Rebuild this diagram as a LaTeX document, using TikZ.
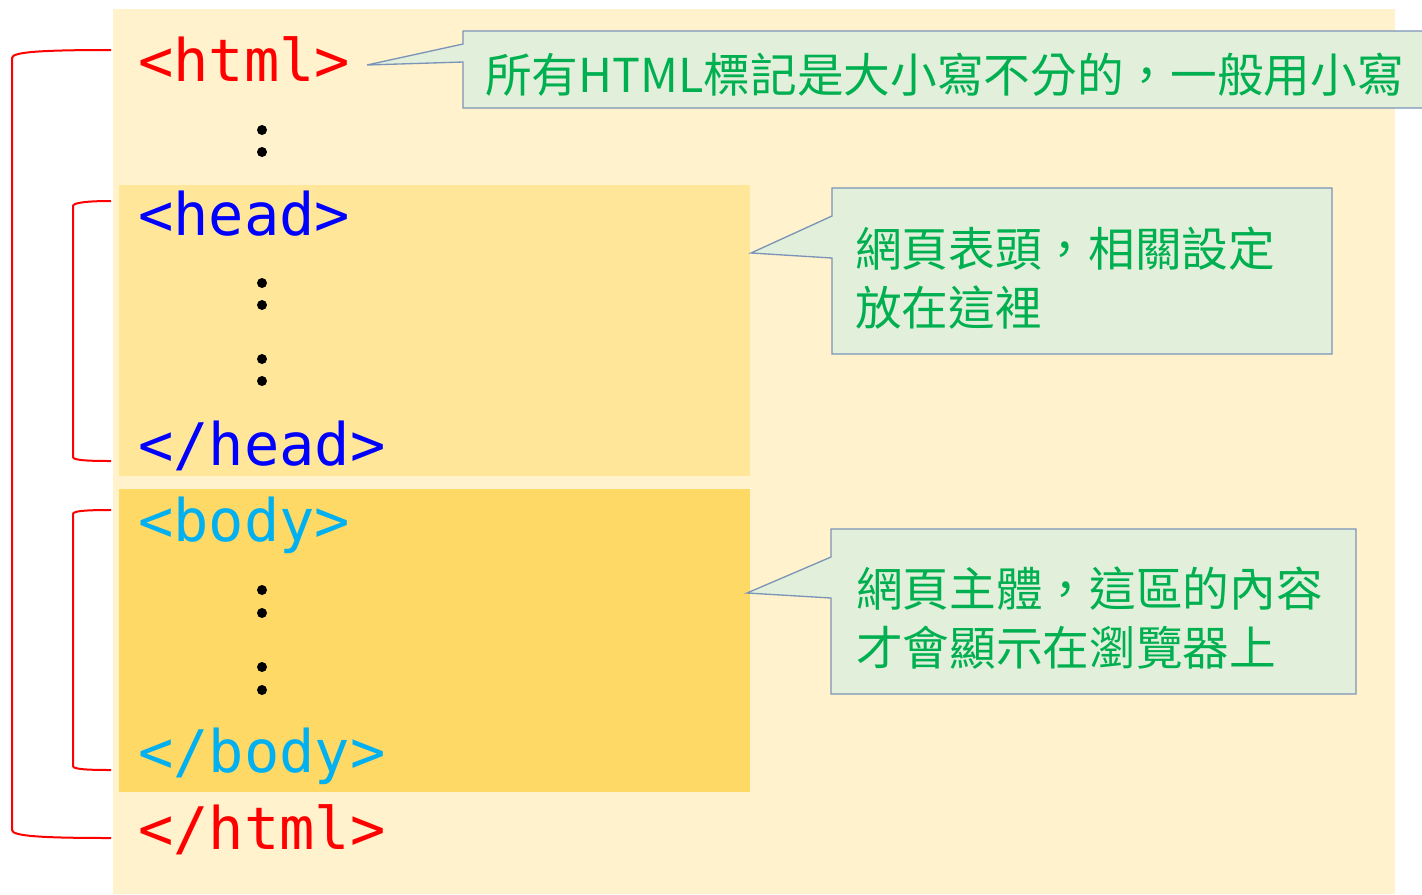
\documentclass[tikz,border=0pt]{standalone}
\usepackage{fontspec}
\newfontfamily\codefont{DejaVu Sans Mono}
\newfontfamily\cjk{Noto Sans CJK TC}
\definecolor{pagebg}{HTML}{FFF2CC}
\definecolor{headbg}{HTML}{FFE699}
\definecolor{bodybg}{HTML}{FFD966}
\definecolor{notegreen}{HTML}{00B050}
\definecolor{notefill}{HTML}{E2EFDA}
\definecolor{noteedge}{HTML}{7A95B8}
\definecolor{tagred}{HTML}{FF0000}
\definecolor{tagblue}{HTML}{0000FF}
\definecolor{tagcyan}{HTML}{00B0F0}
\begin{document}
\begin{tikzpicture}[x=0.75pt,y=-0.75pt,
  code/.style={anchor=base west, inner sep=0pt, font=\codefont\fontsize{44}{44}\selectfont},
  note/.style={anchor=base west, inner sep=0pt, align=left, text=notegreen, font=\cjk\fontsize{35}{44.25}\selectfont},
  bracket/.style={draw=tagred, line width=1.5pt},
  calloutbox/.style={fill=notefill, draw=noteedge, line width=1pt, line join=miter},
  dotmark/.style={circle, fill=black, inner sep=0pt, minimum size=7.5pt}]
\useasboundingbox (0,0) rectangle (1422,894);
% backgrounds
\fill[pagebg] (113,9) rectangle (1395,894);
\fill[headbg] (119,185) rectangle (750,476);
\fill[bodybg] (119,489) rectangle (750,792);
% tags
\node[code, text=tagred] (html) at (138,81) {<html>};
\node[code, text=tagblue] (head) at (138,235) {<head>};
\node[code, text=tagblue] (headend) at (138,465) {</head>};
\node[code, text=tagcyan] (body) at (138,541) {<body>};
\node[code, text=tagcyan] (bodyend) at (138,772) {</body>};
\node[code, text=tagred] (htmlend) at (138,849) {</html>};
% dots
\node[dotmark] (d1) at (262,130) {};
\node[dotmark] (d2) at (262,152) {};
\node[dotmark] (d3) at (262,283) {};
\node[dotmark] (d4) at (262,305) {};
\node[dotmark] (d5) at (262,359) {};
\node[dotmark] (d6) at (262,381) {};
\node[dotmark] (d7) at (262,590) {};
\node[dotmark] (d8) at (262,613) {};
\node[dotmark] (d9) at (262,667) {};
\node[dotmark] (d10) at (262,690) {};
% brackets
\draw[bracket] (111,50) .. controls (40,50) and (12,52) .. (12,58) -- (12,830) .. controls (12,836) and (40,838) .. (111,838);
\draw[bracket] (111,201) .. controls (85,201) and (73,203) .. (73,206) -- (73,457) .. controls (73,460) and (85,461) .. (111,461);
\draw[bracket] (111,510) .. controls (85,510) and (73,511) .. (73,514) -- (73,766) .. controls (73,769) and (85,770) .. (111,770);
% callouts
\coordinate (tip1) at (367,65);
\coordinate (tip2) at (751,253);
\coordinate (tip3) at (747,593);
\draw[calloutbox] (tip1) -- (463,44) -- (463,31) -- (1430,31) -- (1430,108) -- (463,108) -- (463,62) -- cycle;
\draw[calloutbox] (tip2) -- (832,216) -- (832,188) -- (1332,188) -- (1332,354) -- (832,354) -- (832,258) -- cycle;
\draw[calloutbox] (tip3) -- (831,557) -- (831,529) -- (1356,529) -- (1356,694) -- (831,694) -- (831,598) -- cycle;
\node[note] (n1) at (485,92) {所有HTML標記是大小寫不分的，一般用小寫};
\node[note] (n2) at (855,325) {網頁表頭，相關設定\\放在這裡};
\node[note] (n3) at (856,665) {網頁主體，這區的內容\\才會顯示在瀏覽器上};
\end{tikzpicture}
\end{document}
